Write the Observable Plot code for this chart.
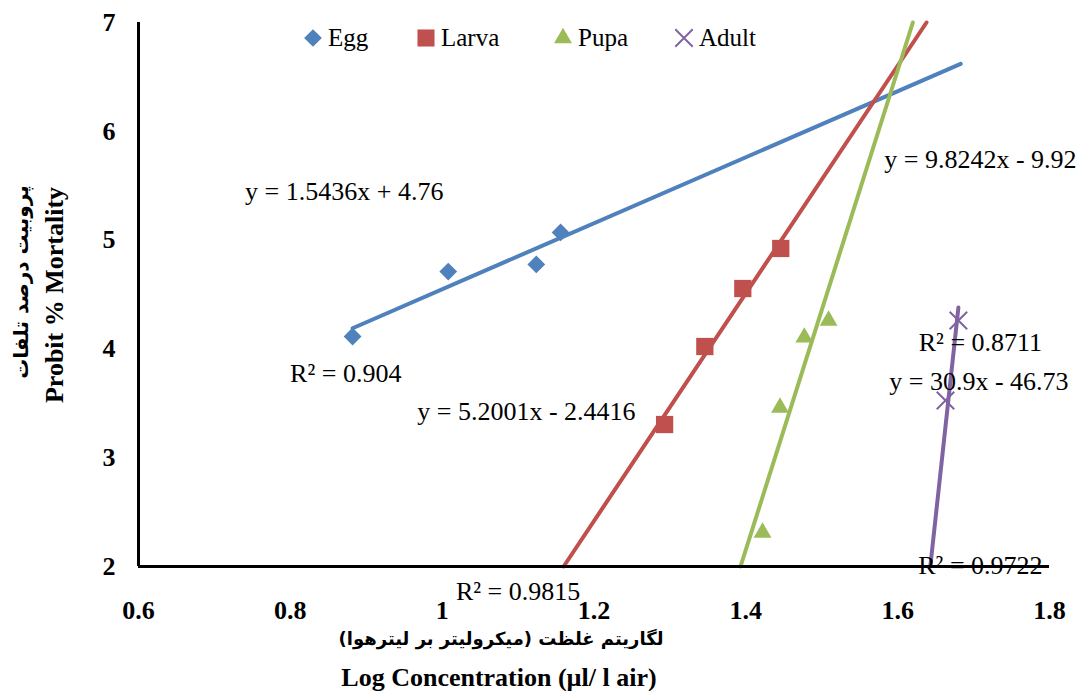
<!DOCTYPE html>
<html>
<head>
<meta charset="utf-8">
<script src="https://cdn.jsdelivr.net/npm/d3@7"></script>
<script src="https://cdn.jsdelivr.net/npm/@observablehq/plot@0.6"></script>
<style>
  html, body { margin: 0; padding: 0; background: #fff; }
  #chart { width: 1090px; height: 691px; }
</style>
</head>
<body>
<div id="chart"></div>
<script>
// ---- data ----
const stages = ["Egg", "Larva", "Pupa", "Adult"];
const colors = ["#4F81BD", "#C0504D", "#9BBB59", "#8064A2"];
const symbols = ["diamond2", "square2", "triangle2", "times"];

const eggX = [0.882, 1.008, 1.124, 1.156];
const eggY = [4.114, 4.711, 4.776, 5.070];
const larvaX = [1.293, 1.346, 1.396, 1.446];
const larvaY = [3.305, 4.022, 4.555, 4.923];
const pupaX = [1.422, 1.445, 1.477, 1.509];
const pupaY = [2.312, 3.461, 4.105, 4.261];
const adultX = [1.663, 1.680];
const adultY = [3.526, 4.261];

// trendline end points
const eggTrendX = [0.882, 1.683];
const eggTrendY = [4.19, 6.62];
const larvaTrendX = [1.160, 1.638];
const larvaTrendY = [2, 7];
const pupaTrendX = [1.393, 1.620];
const pupaTrendY = [2, 7];
const adultTrendX = [1.643, 1.680];
const adultTrendY = [2, 4.38];

// trendline annotations
const labelText = ["y = 1.5436x + 4.76", "R² = 0.904", "y = 5.2001x - 2.4416", "R² = 0.9815",
                   "y = 9.8242x - 9.92", "R² = 0.8711", "y = 30.9x - 46.73", "R² = 0.9722"];
const labelX = [0.871, 0.873, 1.111, 1.100, 1.709, 1.709, 1.707, 1.709];
const labelY = [5.447, 3.774, 3.425, 1.765, 5.741, 4.059, 3.700, 2.010];

const xTicks = [0.6, 0.8, 1, 1.2, 1.4, 1.6, 1.8];
const yTicks = [2, 3, 4, 5, 6, 7];

const yTitleFa = "پروبیت درصد تلفات";
const yTitleEn = "Probit % Mortality";
const xTitleFa = "لگاریتم غلظت (میکرولیتر بر لیترهوا)";
const xTitleEn = "Log Concentration (µl/ l air)";

// ---- build tables ----
const pointsX = [eggX, larvaX, pupaX, adultX];
const pointsY = [eggY, larvaY, pupaY, adultY];
const points = stages.flatMap((s, i) => pointsX[i].map((x, j) => ({stage: s, x, y: pointsY[i][j]})));
const trX = [eggTrendX, larvaTrendX, pupaTrendX, adultTrendX];
const trY = [eggTrendY, larvaTrendY, pupaTrendY, adultTrendY];
const trends = stages.flatMap((s, i) => trX[i].map((x, j) => ({stage: s, x, y: trY[i][j]})));
const labels = labelText.map((t, i) => ({t, x: labelX[i], y: labelY[i]}));

const serif = "'Liberation Serif', 'Times New Roman', serif";

const chart = Plot.plot({
  width: 1090,
  height: 691,
  marginLeft: 138,
  marginRight: 41,
  marginTop: 22,
  marginBottom: 125,
  style: {fontFamily: serif, background: "#fff", color: "#000"},
  x: {domain: [0.6, 1.8]},
  y: {domain: [2, 7]},
  color: {domain: stages, range: colors},
  marks: [
    Plot.axisX(xTicks, {tickSize: 0, tickPadding: 34, tickFormat: d => String(d), fontSize: 26, fontWeight: "bold", label: null}),
    Plot.axisY(yTicks, {tickSize: 0, tickPadding: 23, tickFormat: d => String(d), fontSize: 26, fontWeight: "bold", label: null}),
    Plot.line(trends, {x: "x", y: "y", z: "stage", stroke: "stage", strokeWidth: 4}),
    Plot.dot(points.filter(d => d.stage === "Egg"), {x: "x", y: "y", symbol: "diamond2", fill: colors[0], r: 8}),
    Plot.dot(points.filter(d => d.stage === "Larva"), {x: "x", y: "y", symbol: "square2", fill: colors[1], r: 11}),
    Plot.dot(points.filter(d => d.stage === "Pupa"), {x: "x", y: "y", symbol: "triangle2", fill: colors[2], r: 8.5}),
    Plot.dot(points.filter(d => d.stage === "Adult"), {x: "x", y: "y", symbol: "times", stroke: colors[3], strokeWidth: 2, r: 8}),
    Plot.text(labels, {x: "x", y: "y", text: "t", fontSize: 26, fontFamily: serif, fill: "#000", textAnchor: "middle"}),
    Plot.ruleX([0.6], {strokeWidth: 3, stroke: "#000"}),
    Plot.ruleY([2], {strokeWidth: 3, stroke: "#000"})
  ]
});

document.getElementById("chart").appendChild(chart);

// ---- titles & legend ----
const svg = d3.select(chart);
svg.append("text")
  .attr("transform", "translate(21,282) rotate(-90)")
  .attr("text-anchor", "middle").attr("dominant-baseline", "central")
  .style("font-family", "'DejaVu Sans', sans-serif").style("font-weight", "bold").style("font-size", "20px")
  .attr("direction", "rtl")
  .text(yTitleFa);
svg.append("text")
  .attr("transform", "translate(54,295) rotate(-90)")
  .attr("text-anchor", "middle").attr("dominant-baseline", "central")
  .style("font-family", serif).style("font-weight", "bold").style("font-size", "26px")
  .text(yTitleEn);
svg.append("text")
  .attr("x", 501).attr("y", 638)
  .attr("text-anchor", "middle").attr("dominant-baseline", "central")
  .style("font-family", "'DejaVu Sans', sans-serif").style("font-weight", "bold").style("font-size", "18px")
  .attr("direction", "rtl")
  .text(xTitleFa);
svg.append("text")
  .attr("x", 499).attr("y", 677)
  .attr("text-anchor", "middle").attr("dominant-baseline", "central")
  .style("font-family", serif).style("font-weight", "bold").style("font-size", "26px")
  .text(xTitleEn);

const legendSym = [d3.symbolDiamond2, d3.symbolSquare2, d3.symbolTriangle2, d3.symbolTimes];
const legendMarkX = [313, 426, 563, 684];
const legendSizes = [200, 370, 230, 200];
stages.forEach((s, i) => {
  const g = svg.append("g");
  const p = g.append("path")
    .attr("transform", `translate(${legendMarkX[i]},38)`)
    .attr("d", d3.symbol(legendSym[i], legendSizes[i])());
  if (i === 3) p.attr("fill", "none").attr("stroke", colors[i]).attr("stroke-width", 2);
  else p.attr("fill", colors[i]);
  g.append("text")
    .attr("x", legendMarkX[i] + 15).attr("y", 46)
    .attr("text-anchor", "start")
    .style("font-family", serif).style("font-size", "25px")
    .text(s);
});
</script>
</body>
</html>
